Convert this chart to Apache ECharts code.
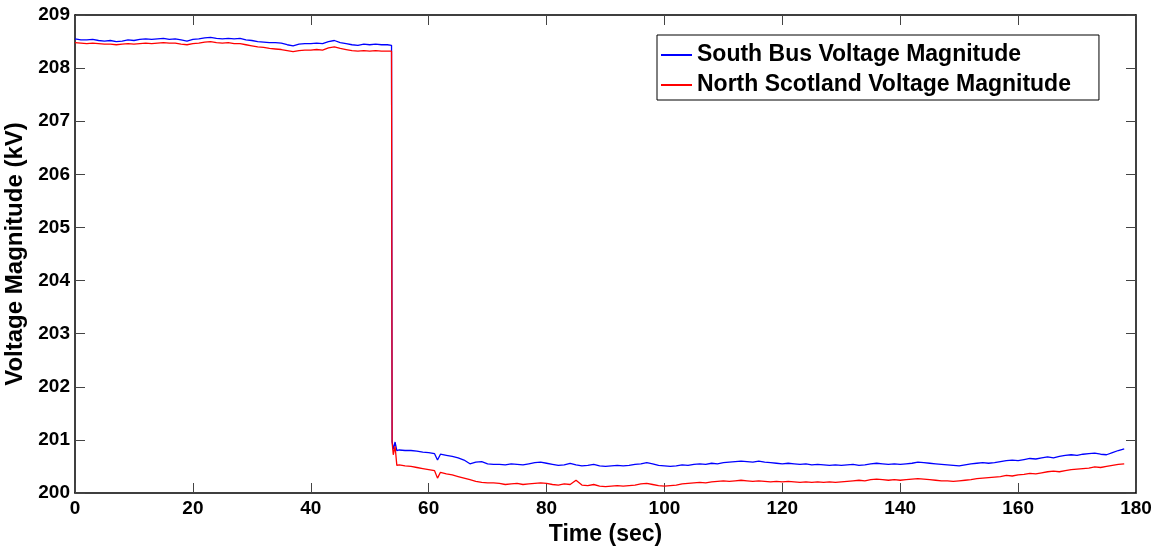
<!DOCTYPE html>
<html>
<head>
<meta charset="utf-8">
<script src="https://cdn.jsdelivr.net/npm/echarts@6/dist/echarts.min.js"></script>
<style>html,body{margin:0;padding:0;background:#fff}#c{width:1160px;height:550px}</style>
</head>
<body>
<div id="c"></div>
<script>
const seriesNames = ['South Bus Voltage Magnitude', 'North Scotland Voltage Magnitude'];
const xTicks = [0, 20, 40, 60, 80, 100, 120, 140, 160, 180];
const yTicks = [200, 201, 202, 203, 204, 205, 206, 207, 208, 209];

const time = [
  0,1,2,3,4,5,6,7,8,9,10,11,12,13,14,15,16,17,18,19,20,21,22,23,24,25,26,27,28,29,
  30,31,32,33,34,35,36,37,38,39,40,41,42,43,44,45,46,47,48,49,50,51,52,53,
  53.7,53.8,54,54.3,54.6,
  55,56,57,58,59,60,61,61.5,
  62,63,64,65,66,67,68,69,70,71,72,73,74,75,76,77,78,79,80,81,82,83,84,85,86,87,88,89,90,
  91,92,93,94,95,96,97,98,99,100,101,102,103,104,105,106,107,108,109,110,
  111,112,113,114,115,116,117,118,119,120,121,122,123,124,125,126,127,128,129,130,
  131,132,133,134,135,136,137,138,139,140,141,142,143,144,145,146,147,148,149,150,
  151,152,153,154,155,156,157,158,159,160,161,162,163,164,165,166,167,168,169,170,
  171,172,173,174,175,176,177,178
];

const southBus = [
  208.55,208.53,208.53,208.54,208.52,208.51,208.52,208.50,208.51,208.53,
  208.52,208.54,208.55,208.54,208.55,208.56,208.54,208.55,208.53,208.51,
  208.54,208.55,208.57,208.58,208.56,208.55,208.56,208.55,208.56,208.53,
  208.52,208.50,208.49,208.48,208.48,208.47,208.44,208.42,208.45,208.46,
  208.46,208.47,208.46,208.50,208.52,208.48,208.46,208.44,208.43,208.45,
  208.44,208.45,208.44,208.44,
  208.43,200.97,200.82,200.96,200.80,
  200.81,200.80,200.80,200.79,200.77,200.76,200.74,200.62,
  200.73,200.71,200.69,200.66,200.62,200.55,200.58,200.59,200.55,200.54,
  200.54,200.53,200.55,200.54,200.53,200.55,200.57,200.58,200.56,200.54,
  200.52,200.53,200.56,200.53,200.51,200.52,200.54,200.51,200.50,
  200.51,200.52,200.51,200.52,200.54,200.55,200.57,200.55,200.52,200.51,
  200.50,200.51,200.53,200.52,200.54,200.55,200.54,200.56,200.55,200.57,
  200.58,200.59,200.60,200.59,200.58,200.60,200.58,200.57,200.56,200.55,
  200.56,200.55,200.54,200.55,200.53,200.54,200.53,200.52,200.53,200.52,
  200.53,200.54,200.52,200.53,200.55,200.56,200.55,200.54,200.55,200.54,
  200.55,200.56,200.58,200.57,200.56,200.55,200.54,200.53,200.52,200.51,
  200.53,200.55,200.56,200.57,200.56,200.57,200.59,200.61,200.62,200.61,
  200.63,200.65,200.64,200.66,200.68,200.66,200.69,200.71,200.72,200.71,
  200.73,200.74,200.75,200.73,200.72,200.76,200.80,200.83
];

const northScotland = [
  208.48,208.47,208.46,208.47,208.46,208.45,208.45,208.44,208.45,208.46,
  208.45,208.46,208.47,208.46,208.47,208.48,208.47,208.47,208.45,208.44,
  208.46,208.47,208.49,208.50,208.48,208.47,208.48,208.46,208.46,208.44,
  208.42,208.40,208.39,208.37,208.36,208.35,208.33,208.31,208.33,208.34,
  208.34,208.35,208.34,208.38,208.40,208.37,208.35,208.33,208.32,208.33,
  208.32,208.33,208.32,208.32,
  208.32,200.95,200.72,200.88,200.52,
  200.53,200.51,200.50,200.48,200.46,200.44,200.42,200.28,
  200.39,200.36,200.34,200.31,200.28,200.25,200.22,200.20,200.19,200.19,
  200.18,200.16,200.17,200.18,200.16,200.17,200.18,200.19,200.18,200.16,
  200.15,200.17,200.16,200.24,200.15,200.14,200.16,200.13,200.12,
  200.13,200.14,200.13,200.14,200.15,200.17,200.18,200.16,200.14,200.13,
  200.14,200.15,200.17,200.18,200.19,200.20,200.19,200.21,200.22,200.23,
  200.22,200.23,200.24,200.23,200.22,200.23,200.22,200.21,200.22,200.21,
  200.22,200.21,200.20,200.21,200.20,200.21,200.20,200.21,200.20,200.21,
  200.22,200.23,200.24,200.23,200.25,200.26,200.25,200.24,200.25,200.24,
  200.25,200.26,200.27,200.26,200.25,200.24,200.23,200.23,200.22,200.23,
  200.24,200.25,200.27,200.28,200.29,200.30,200.31,200.33,200.32,200.34,
  200.35,200.37,200.36,200.38,200.40,200.41,200.40,200.42,200.44,200.45,
  200.46,200.47,200.49,200.48,200.50,200.52,200.54,200.55
];

const chart = echarts.init(document.getElementById('c'), null, {renderer: 'canvas'});
const font = 'Arial, "Liberation Sans", Helvetica, sans-serif';
const pair = (ys) => time.map((t, i) => [t, ys[i]]);

const commonAxis = {
  axisLine: {show: true, onZero: false, lineStyle: {color: '#000', width: 1.5}},
  axisTick: {show: true, inside: true, length: 10, lineStyle: {color: '#444', width: 1}},
  splitLine: {show: false}
};

chart.setOption({
  backgroundColor: '#fff',
  animation: false,
  grid: {left: 75, right: 24, top: 15, bottom: 57, containLabel: false, outerBoundsMode: 'none'},
  legend: {
    orient: 'vertical',
    left: 657, top: 35,
    padding: [6, 28, 1, 4],
    itemGap: 2,
    itemWidth: 31, itemHeight: 2,
    icon: 'rect',
    borderColor: '#000', borderWidth: 1,
    backgroundColor: '#fff',
    textStyle: {fontFamily: font, fontWeight: 'bold', fontSize: 23, color: '#000', lineHeight: 28},
    data: seriesNames
  },
  xAxis: [
    Object.assign({}, commonAxis, {
      type: 'value', min: xTicks[0], max: xTicks[xTicks.length - 1], interval: 20,
      position: 'bottom',
      name: 'Time (sec)', nameLocation: 'middle', nameGap: 26,
      nameTextStyle: {fontFamily: font, fontWeight: 'bold', fontSize: 23, color: '#000'},
      axisLabel: {fontFamily: font, fontWeight: 'bold', fontSize: 19, color: '#000', margin: 6}
    }),
    Object.assign({}, commonAxis, {
      type: 'value', min: xTicks[0], max: xTicks[xTicks.length - 1], interval: 20,
      position: 'top', axisLabel: {show: false}
    })
  ],
  yAxis: [
    Object.assign({}, commonAxis, {
      type: 'value', min: yTicks[0], max: yTicks[yTicks.length - 1], interval: 1,
      position: 'left',
      name: 'Voltage Magnitude (kV)', nameLocation: 'middle', nameGap: 39,
      nameTextStyle: {fontFamily: font, fontWeight: 'bold', fontSize: 24, color: '#000'},
      axisLabel: {fontFamily: font, fontWeight: 'bold', fontSize: 19, color: '#000', margin: 5}
    }),
    Object.assign({}, commonAxis, {
      type: 'value', min: yTicks[0], max: yTicks[yTicks.length - 1], interval: 1,
      position: 'right', axisLabel: {show: false}
    })
  ],
  series: [
    {
      name: seriesNames[0], type: 'line', showSymbol: false, symbol: 'none',
      xAxisIndex: 0, yAxisIndex: 0,
      lineStyle: {color: '#0000ff', width: 1.3}, itemStyle: {color: '#0000ff'},
      data: pair(southBus)
    },
    {
      name: seriesNames[1], type: 'line', showSymbol: false, symbol: 'none',
      xAxisIndex: 0, yAxisIndex: 0,
      lineStyle: {color: '#ff0000', width: 1.3}, itemStyle: {color: '#ff0000'},
      data: pair(northScotland)
    }
  ]
});
</script>
</body>
</html>
